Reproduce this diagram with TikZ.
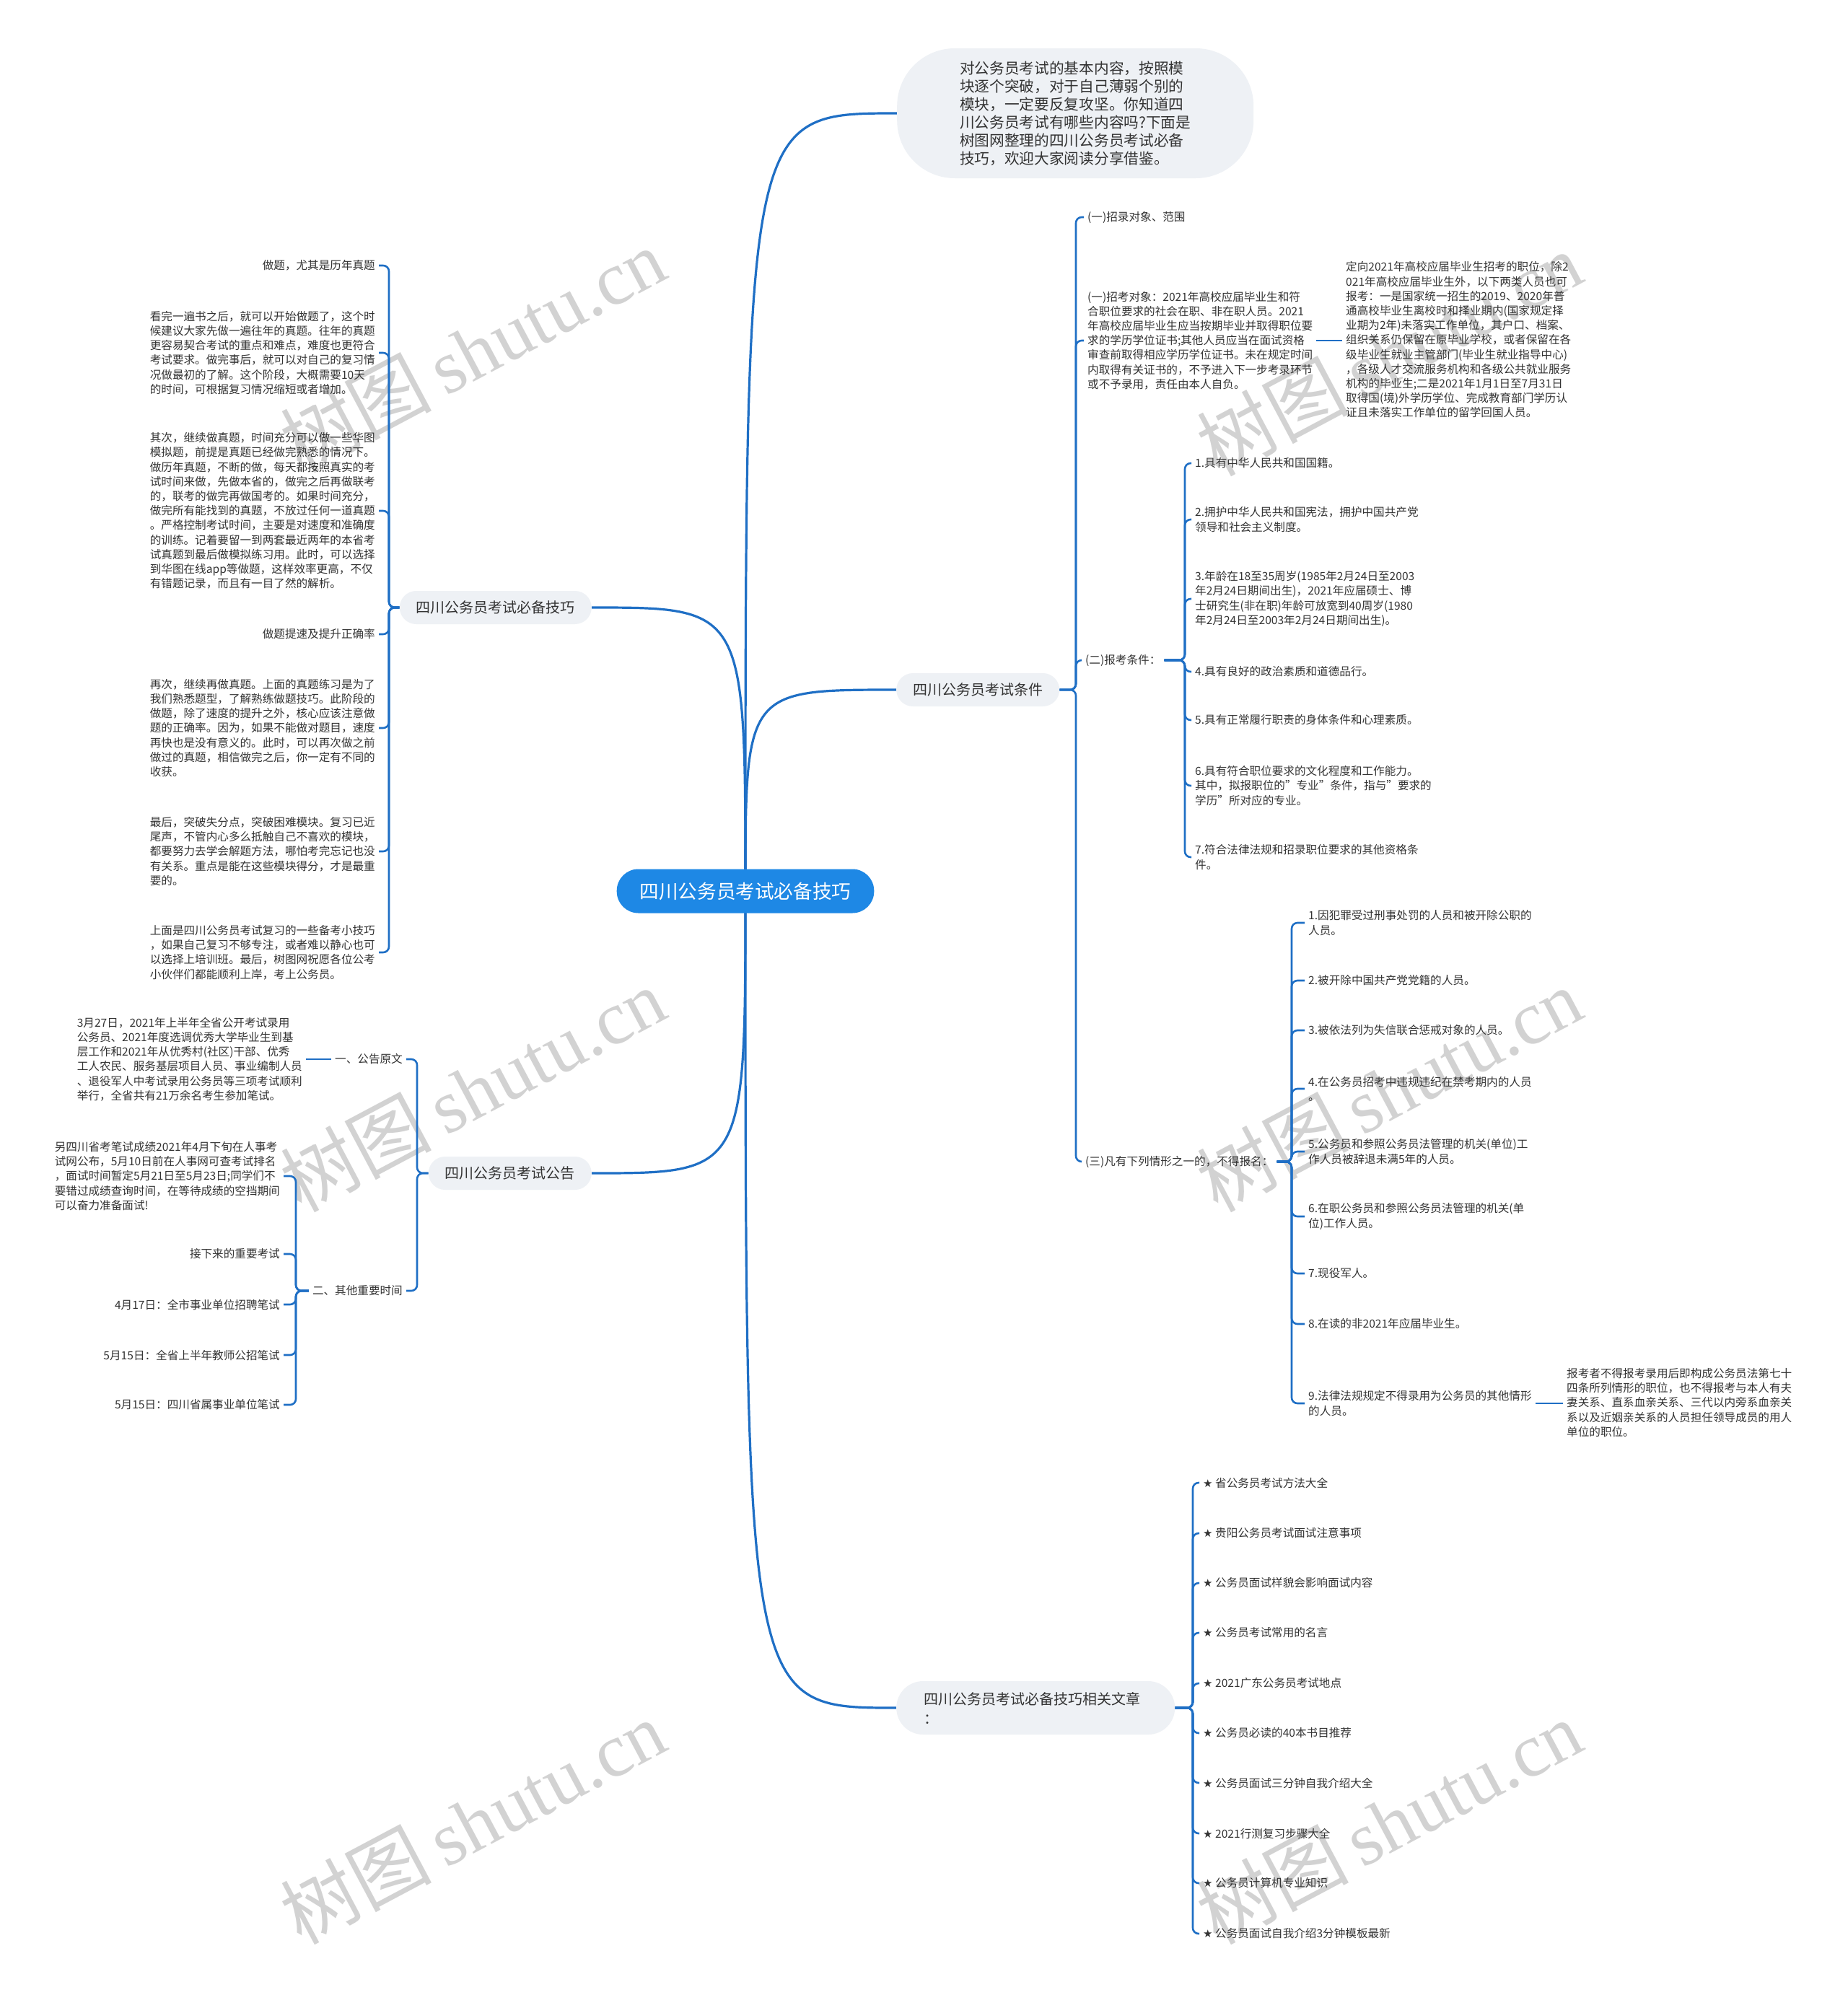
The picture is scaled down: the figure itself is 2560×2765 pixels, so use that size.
\documentclass[tikz,border=0pt]{standalone}
\usepackage{fontspec}
\setmainfont{Noto Sans CJK SC}
\newfontfamily\wmserif{Liberation Serif}
\newfontfamily\symfont{DejaVu Sans}
\usetikzlibrary{backgrounds}

\definecolor{lineblue}{HTML}{1F6FC5}
\definecolor{rootblue}{HTML}{1E88E5}
\definecolor{nodegray}{HTML}{EEF1F5}
\definecolor{txt}{HTML}{333333}
\definecolor{wm}{HTML}{D2D2D2}

\newcommand{\st}{{\symfont\fontsize{15}{18}\selectfont ★}\ }

\tikzset{
  mainline/.style={draw=lineblue, line width=3.2pt},
  subline/.style={draw=lineblue, line width=2.6pt, rounded corners=8pt},
  rootnode/.style={fill=rootblue, rounded corners=30pt, text=white, font=\fontsize{26.6}{30}\selectfont, minimum height=61pt, inner xsep=32pt, inner ysep=0pt},
  branchnode/.style={fill=nodegray, rounded corners=23pt, text=txt, font=\fontsize{20}{27}\selectfont, minimum height=46pt, inner xsep=23pt, inner ysep=0pt},
  bubblenode/.style={fill=nodegray, rounded corners=80pt, text=txt, align=left, font=\fontsize{20.7}{25}\selectfont, minimum height=180pt, minimum width=494pt, inner xsep=0pt, inner ysep=0pt},
  leaf/.style={text=txt, font=\fontsize{15.6}{20.2}\selectfont, inner xsep=5pt, inner ysep=0pt},
  leafl/.style={leaf, align=left},
  leafr/.style={leaf, align=right},
  wmark/.style={text=wm, rotate=28, font=\fontsize{105}{105}\selectfont},
}

\begin{document}
\begin{tikzpicture}[x=1pt,y=-1pt]
\useasboundingbox (0,0) rectangle (2560,2765);

% ---------- root ----------
\node[rootnode] (root) at (1033,1235) {四川公务员考试必备技巧};

% ---------- top bubble ----------
\node[bubblenode, anchor=west] (bub) at (1243,157) {对公务员考试的基本内容，按照模\\块逐个突破，对于自己薄弱个别的\\模块，一定要反复攻坚。你知道四\\川公务员考试有哪些内容吗?下面是\\树图网整理的四川公务员考试必备\\技巧，欢迎大家阅读分享借鉴。};

% ---------- right branch: 条件 ----------
\node[branchnode, anchor=west] (cond) at (1242,956) {四川公务员考试条件};
\coordinate (tc) at (1491,0);
\node[leafl, anchor=west] (c1) at (1502,301) {(一)招录对象、范围};
\node[leafl, anchor=west] (c2) at (1502,472) {(一)招考对象：2021年高校应届毕业生和符\\合职位要求的社会在职、非在职人员。2021\\年高校应届毕业生应当按期毕业并取得职位要\\求的学历学位证书;其他人员应当在面试资格\\审查前取得相应学历学位证书。未在规定时间\\内取得有关证书的，不予进入下一步考录环节\\或不予录用，责任由本人自负。};
\node[leafl, anchor=west] (c2a) at (1860,471) {定向2021年高校应届毕业生招考的职位，除2\\021年高校应届毕业生外，以下两类人员也可\\报考：一是国家统一招生的2019、2020年普\\通高校毕业生离校时和择业期内(国家规定择\\业期为2年)未落实工作单位，其户口、档案、\\组织关系仍保留在原毕业学校，或者保留在各\\级毕业生就业主管部门(毕业生就业指导中心)\\，各级人才交流服务机构和各级公共就业服务\\机构的毕业生;二是2021年1月1日至7月31日\\取得国(境)外学历学位、完成教育部门学历认\\证且未落实工作单位的留学回国人员。};
\node[leafl, anchor=west] (c3) at (1499,915) {(二)报考条件：};
\node[leafl, anchor=west] (c4) at (1499,1610) {(三)凡有下列情形之一的，不得报名：};

\coordinate (tq) at (1642,0);
\node[leafl, anchor=west] (q1) at (1651,642) {1.具有中华人民共和国国籍。};
\node[leafl, anchor=west] (q2) at (1651,720) {2.拥护中华人民共和国宪法，拥护中国共产党\\领导和社会主义制度。};
\node[leafl, anchor=west] (q3) at (1651,830) {3.年龄在18至35周岁(1985年2月24日至2003\\年2月24日期间出生)，2021年应届硕士、博\\士研究生(非在职)年龄可放宽到40周岁(1980\\年2月24日至2003年2月24日期间出生)。};
\node[leafl, anchor=west] (q4) at (1651,931) {4.具有良好的政治素质和道德品行。};
\node[leafl, anchor=west] (q5) at (1651,998) {5.具有正常履行职责的身体条件和心理素质。};
\node[leafl, anchor=west] (q6) at (1651,1089) {6.具有符合职位要求的文化程度和工作能力。\\其中，拟报职位的"专业"条件，指与"要求的\\学历"所对应的专业。};
\node[leafl, anchor=west] (q7) at (1651,1188) {7.符合法律法规和招录职位要求的其他资格条\\件。};

\coordinate (tx) at (1790,0);
\node[leafl, anchor=west] (x1) at (1808,1279) {1.因犯罪受过刑事处罚的人员和被开除公职的\\人员。};
\node[leafl, anchor=west] (x2) at (1808,1359) {2.被开除中国共产党党籍的人员。};
\node[leafl, anchor=west] (x3) at (1808,1428) {3.被依法列为失信联合惩戒对象的人员。};
\node[leafl, anchor=west] (x4) at (1808,1509) {4.在公务员招考中违规违纪在禁考期内的人员\\。};
\node[leafl, anchor=west] (x5) at (1808,1596) {5.公务员和参照公务员法管理的机关(单位)工\\作人员被辞退未满5年的人员。};
\node[leafl, anchor=west] (x6) at (1808,1686) {6.在职公务员和参照公务员法管理的机关(单\\位)工作人员。};
\node[leafl, anchor=west] (x7) at (1808,1765) {7.现役军人。};
\node[leafl, anchor=west] (x8) at (1808,1835) {8.在读的非2021年应届毕业生。};
\node[leafl, anchor=west] (x9) at (1808,1945) {9.法律法规规定不得录用为公务员的其他情形\\的人员。};
\node[leafl, anchor=west] (x9a) at (2166,1944) {报考者不得报考录用后即构成公务员法第七十\\四条所列情形的职位，也不得报考与本人有夫\\妻关系、直系血亲关系、三代以内旁系血亲关\\系以及近姻亲关系的人员担任领导成员的用人\\单位的职位。};

% ---------- right branch: 相关文章 ----------
\node[branchnode, anchor=west, align=left, text width=310pt, inner xsep=38pt, minimum height=74pt, rounded corners=37pt, font=\fontsize{20}{27}\selectfont] (rel) at (1242,2367) {四川公务员考试必备技巧相关文章\\：};
\coordinate (tr) at (1653,0);
\node[leafl, anchor=west] (r1) at (1662,2055) {\st 省公务员考试方法大全};
\node[leafl, anchor=west] (r2) at (1662,2125) {\st 贵阳公务员考试面试注意事项};
\node[leafl, anchor=west] (r3) at (1662,2194) {\st 公务员面试样貌会影响面试内容};
\node[leafl, anchor=west] (r4) at (1662,2263) {\st 公务员考试常用的名言};
\node[leafl, anchor=west] (r5) at (1662,2333) {\st 2021广东公务员考试地点};
\node[leafl, anchor=west] (r6) at (1662,2402) {\st 公务员必读的40本书目推荐};
\node[leafl, anchor=west] (r7) at (1662,2471) {\st 公务员面试三分钟自我介绍大全};
\node[leafl, anchor=west] (r8) at (1662,2541) {\st 2021行测复习步骤大全};
\node[leafl, anchor=west] (r9) at (1662,2610) {\st 公务员计算机专业知识};
\node[leafl, anchor=west] (r10) at (1662,2680) {\st 公务员面试自我介绍3分钟模板最新};

% ---------- left branch: 技巧 ----------
\node[branchnode, anchor=east] (tips) at (820,842) {四川公务员考试必备技巧};
\coordinate (tt) at (539,0);
\node[leafr, anchor=east] (t1) at (525,368) {做题，尤其是历年真题};
\node[leafl, anchor=east] (t2) at (525,489) {看完一遍书之后，就可以开始做题了，这个时\\候建议大家先做一遍往年的真题。往年的真题\\更容易契合考试的重点和难点，难度也更符合\\考试要求。做完事后，就可以对自己的复习情\\况做最初的了解。这个阶段，大概需要10天\\的时间，可根据复习情况缩短或者增加。};
\node[leafl, anchor=east] (t3) at (525,708) {其次，继续做真题，时间充分可以做一些华图\\模拟题，前提是真题已经做完熟悉的情况下。\\做历年真题，不断的做，每天都按照真实的考\\试时间来做，先做本省的，做完之后再做联考\\的，联考的做完再做国考的。如果时间充分，\\做完所有能找到的真题，不放过任何一道真题\\。严格控制考试时间，主要是对速度和准确度\\的训练。记着要留一到两套最近两年的本省考\\试真题到最后做模拟练习用。此时，可以选择\\到华图在线app等做题，这样效率更高，不仅\\有错题记录，而且有一目了然的解析。};
\node[leafr, anchor=east] (t4) at (525,879) {做题提速及提升正确率};
\node[leafl, anchor=east] (t5) at (525,1009) {再次，继续再做真题。上面的真题练习是为了\\我们熟悉题型，了解熟练做题技巧。此阶段的\\做题，除了速度的提升之外，核心应该注意做\\题的正确率。因为，如果不能做对题目，速度\\再快也是没有意义的。此时，可以再次做之前\\做过的真题，相信做完之后，你一定有不同的\\收获。};
\node[leafl, anchor=east] (t6) at (525,1180) {最后，突破失分点，突破困难模块。复习已近\\尾声，不管内心多么抵触自己不喜欢的模块，\\都要努力去学会解题方法，哪怕考完忘记也没\\有关系。重点是能在这些模块得分，才是最重\\要的。};
\node[leafl, anchor=east] (t7) at (525,1320) {上面是四川公务员考试复习的一些备考小技巧\\，如果自己复习不够专注，或者难以静心也可\\以选择上培训班。最后，树图网祝愿各位公考\\小伙伴们都能顺利上岸，考上公务员。};

% ---------- left branch: 公告 ----------
\node[branchnode, anchor=east] (ann) at (820,1626) {四川公务员考试公告};
\coordinate (ta) at (578,0);
\node[leafr, anchor=east] (a1) at (563,1468) {一、公告原文};
\node[leafl, anchor=east] (a1p) at (424,1468) {3月27日，2021年上半年全省公开考试录用\\公务员、2021年度选调优秀大学毕业生到基\\层工作和2021年从优秀村(社区)干部、优秀\\工人农民、服务基层项目人员、事业编制人员\\、退役军人中考试录用公务员等三项考试顺利\\举行，全省共有21万余名考生参加笔试。};
\node[leafr, anchor=east] (a2) at (563,1789) {二、其他重要时间};
\coordinate (tb) at (410,0);
\node[leafl, anchor=east] (b1) at (393,1630) {另四川省考笔试成绩2021年4月下旬在人事考\\试网公布，5月10日前在人事网可查考试排名\\，面试时间暂定5月21日至5月23日;同学们不\\要错过成绩查询时间，在等待成绩的空挡期间\\可以奋力准备面试!};
\node[leafr, anchor=east] (b2) at (393,1738) {接下来的重要考试};
\node[leafr, anchor=east] (b3) at (393,1808) {4月17日：全市事业单位招聘笔试};
\node[leafr, anchor=east] (b4) at (393,1878) {5月15日：全省上半年教师公招笔试};
\node[leafr, anchor=east] (b5) at (393,1947) {5月15日：四川省属事业单位笔试};

\begin{scope}[on background layer]
\fill[white] (0,0) rectangle (2560,2765);
% watermarks
\node[wmark] (w1) at (655,485) {树图\hspace{18pt}{\wmserif shutu.cn}};
\node[wmark] (w2) at (655,1510) {树图\hspace{18pt}{\wmserif shutu.cn}};
\node[wmark] (w3) at (655,2525) {树图\hspace{18pt}{\wmserif shutu.cn}};
\node[wmark] (w4) at (1925,490) {树图\hspace{18pt}{\wmserif shutu.cn}};
\node[wmark] (w5) at (1925,1510) {树图\hspace{18pt}{\wmserif shutu.cn}};
\node[wmark] (w6) at (1925,2525) {树图\hspace{18pt}{\wmserif shutu.cn}};

% main connectors
\foreach \n in {bub,cond,rel}
  \draw[mainline] (root.center) .. controls (root.center |- \n.west) .. (\n.west);
\foreach \n in {tips,ann}
  \draw[mainline] (root.center) .. controls (root.center |- \n.east) .. (\n.east);

% right side brackets
\foreach \n in {c1,c2,c3,c4}
  \draw[subline] (cond.east) -- (cond.east -| tc) -- (\n.west -| tc) -- (\n.west);
\draw[subline] (c2.east) -- (c2.east -| c2a.west);
\foreach \n in {q1,q2,q3,q4,q5,q6,q7}
  \draw[subline] (c3.east) -- (c3.east -| tq) -- (\n.west -| tq) -- (\n.west);
\foreach \n in {x1,x2,x3,x4,x5,x6,x7,x8,x9}
  \draw[subline] (c4.east) -- (c4.east -| tx) -- (\n.west -| tx) -- (\n.west);
\draw[subline] (x9.east) -- (x9.east -| x9a.west);
\foreach \n in {r1,r2,r3,r4,r5,r6,r7,r8,r9,r10}
  \draw[subline] (rel.east) -- (rel.east -| tr) -- (\n.west -| tr) -- (\n.west);

% left side brackets
\foreach \n in {t1,t2,t3,t4,t5,t6,t7}
  \draw[subline] (tips.west) -- (tips.west -| tt) -- (\n.east -| tt) -- (\n.east);
\foreach \n in {a1,a2}
  \draw[subline] (ann.west) -- (ann.west -| ta) -- (\n.east -| ta) -- (\n.east);
\draw[subline] (a1.west) -- (a1.west -| a1p.east);
\foreach \n in {b1,b2,b3,b4,b5}
  \draw[subline] (a2.west) -- (a2.west -| tb) -- (\n.east -| tb) -- (\n.east);
\end{scope}
\end{tikzpicture}
\end{document}
